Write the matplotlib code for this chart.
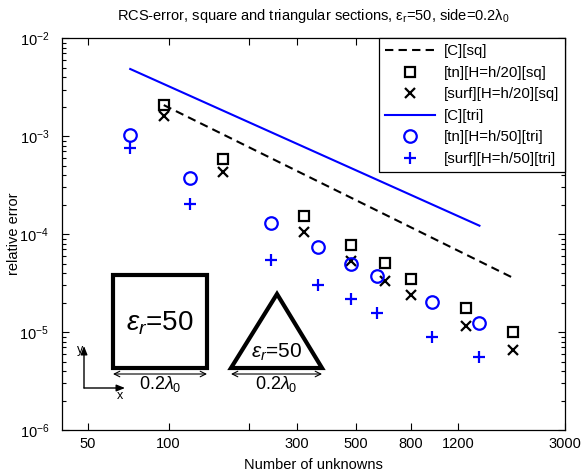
import matplotlib
matplotlib.use("Agg")
import matplotlib.pyplot as plt
from matplotlib.patches import Rectangle, Polygon, FancyArrowPatch
from matplotlib.ticker import FixedLocator, FixedFormatter, LogLocator, NullFormatter

plt.rcParams['font.family'] = ['Liberation Sans', 'DejaVu Sans']
plt.rcParams['mathtext.fontset'] = 'custom'
plt.rcParams['mathtext.rm'] = 'Liberation Sans'
plt.rcParams['mathtext.it'] = 'Liberation Sans:italic'
plt.rcParams['mathtext.default'] = 'it'

# ---- data ----
N_sq = [96, 160, 320, 480, 640, 800, 1280, 1920]
err_tn_sq = [2.08e-3, 5.86e-4, 1.54e-4, 7.8e-5, 5.1e-5, 3.5e-5, 1.77e-5, 1.0e-5]
err_surf_sq = [1.61e-3, 4.3e-4, 1.05e-4, 5.3e-5, 3.3e-5, 2.4e-5, 1.16e-5, 6.6e-6]
N_tri = [72, 120, 240, 360, 480, 600, 960, 1440]
err_tn_tri = [1.03e-3, 3.75e-4, 1.30e-4, 7.4e-5, 5.0e-5, 3.75e-5, 2.04e-5, 1.24e-5]
err_surf_tri = [7.6e-4, 2.04e-4, 5.5e-5, 3.0e-5, 2.2e-5, 1.57e-5, 9.0e-6, 5.5e-6]
C_sq_N = [96, 1920]
C_sq = [2.08e-3, 3.58e-5]
C_tri_N = [72, 1440]
C_tri = [4.86e-3, 1.22e-4]
xtick_vals = [50, 100, 200, 300, 500, 800, 1200, 3000]
xtick_labels = ['50', '100', '', '300', '500', '800', '1200', '3000']

W, H = 582, 474
fig = plt.figure(figsize=(W / 100, H / 100), dpi=100)
ax = fig.add_axes([61.7 / W, 1 - 430 / H, (565 - 61.7) / W, (430 - 38.3) / H])
ax.set_xscale('log')
ax.set_yscale('log')

blue = '#0000FF'
ax.plot(C_sq_N, C_sq, color='k', ls=(0, (4, 2.5)), lw=1.5, label='[C][sq]')
ax.plot(N_sq, err_tn_sq, ls='none', marker='s', ms=7, mfc='none', mec='k', mew=1.6,
        label='[tn][H=h/20][sq]')
ax.plot(N_sq, err_surf_sq, ls='none', marker='x', ms=7, mec='k', mew=1.6,
        label='[surf][H=h/20][sq]')
ax.plot(C_tri_N, C_tri, color=blue, lw=1.5, label='[C][tri]')
ax.plot(N_tri, err_tn_tri, ls='none', marker='o', ms=9, mfc='none', mec=blue, mew=1.6,
        label='[tn][H=h/50][tri]')
ax.plot(N_tri, err_surf_tri, ls='none', marker='+', ms=9, mec=blue, mew=1.6,
        label='[surf][H=h/50][tri]')

ax.set_xlim(40, 3000)
ax.set_ylim(1e-6, 1e-2)
ax.xaxis.set_major_locator(FixedLocator(xtick_vals))
ax.xaxis.set_major_formatter(FixedFormatter(xtick_labels))
ax.xaxis.set_minor_locator(FixedLocator([]))
ax.yaxis.set_major_locator(LogLocator(base=10, numticks=10))
ax.yaxis.set_minor_locator(LogLocator(base=10, subs=range(2, 10), numticks=20))
ax.yaxis.set_minor_formatter(NullFormatter())
ax.tick_params(which='both', direction='in', top=True, right=True, labelsize=10.5, width=0.8)
ax.tick_params(which='major', length=5)
ax.tick_params(which='minor', length=3)
ax.tick_params(axis='y', which='major', pad=9)
ax.tick_params(axis='x', which='major', pad=5)
for s in ax.spines.values():
    s.set_linewidth(0.9)

ax.set_xlabel('Number of unknowns', fontsize=10.5, labelpad=5)
ax.set_ylabel('relative error', fontsize=10.5)
ax.yaxis.set_label_coords((21 - 61.7) / 503.3, 0.5)
ax.set_title(r'RCS-error, square and triangular sections, $\mathrm{\varepsilon_r}$=50, side=0.2$\mathrm{\lambda_0}$',
             fontsize=10.5, pad=13)

leg = ax.legend(loc='upper right', borderaxespad=0, fontsize=10.8, fancybox=False,
                framealpha=1, edgecolor='k', handlelength=3.3, handletextpad=0.6,
                labelspacing=0.5, borderpad=0.4)
leg.get_frame().set_linewidth(0.9)

# ---- inset sketches (figure pixel coordinates) ----
def P(x, y):
    return (x / W, 1 - y / H)

tf = fig.transFigure
fig.add_artist(Rectangle(P(113.3, 368.3), (207.3 - 113.3) / W, (368.3 - 275) / H,
                         fill=False, lw=3, ec='k', transform=tf))
fig.text(*P(160, 323), r'$\varepsilon_r$=50', fontsize=20, ha='center', va='center')
fig.add_artist(Polygon([P(231, 368), P(322, 368), P(277, 294)], closed=True,
                       fill=False, lw=3, ec='k', joinstyle='miter', transform=tf))
fig.text(*P(277, 352), r'$\varepsilon_r$=50', fontsize=15, ha='center', va='center')
for x0, x1 in [(113, 207), (231, 322)]:
    fig.add_artist(FancyArrowPatch(P(x0, 374), P(x1, 374), arrowstyle='<->,head_length=4,head_width=2',
                                   lw=0.8, color='k', transform=tf, shrinkA=0, shrinkB=0))
    fig.text(*P((x0 + x1) / 2, 384), r'0.2$\lambda_{\mathit{0}}$', fontsize=13, ha='center', va='center')

fig.add_artist(FancyArrowPatch(P(84, 388), P(84, 346), arrowstyle='-|>,head_length=5,head_width=2',
                               lw=1, color='k', transform=tf, shrinkA=0, shrinkB=0))
fig.add_artist(FancyArrowPatch(P(84, 388), P(125, 388), arrowstyle='-|>,head_length=5,head_width=2',
                               lw=1, color='k', transform=tf, shrinkA=0, shrinkB=0))
fig.text(*P(80, 350), 'y', fontsize=9, ha='center', va='center')
fig.text(*P(120, 396), 'x', fontsize=9, ha='center', va='center')

fig.savefig('out.png', dpi=100)
